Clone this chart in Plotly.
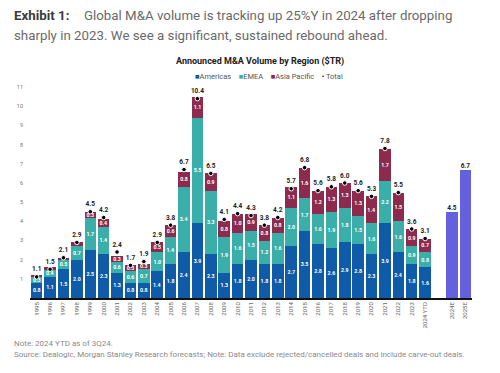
import plotly.graph_objects as go

years = [str(y) for y in range(1995, 2024)] + ["2024 YTD"]
forecast_labels = ["2024E", "2025E"]
gap_label = " "
categories = years + [gap_label] + forecast_labels

americas = [0.8, 1.1, 1.5, 2.0, 2.5, 2.3, 1.3, 0.8, 0.8, 1.4, 1.8, 2.4, 3.9, 2.3, 1.3,
            1.8, 2.0, 1.8, 1.8, 2.7, 3.5, 2.8, 2.6, 2.9, 2.8, 2.3, 3.9, 2.4, 1.8, 1.6]
emea = [0.3, 0.4, 0.5, 0.7, 1.7, 1.4, 0.6, 0.6, 0.7, 1.0, 1.4, 3.4, 5.5, 3.3, 1.9,
        1.6, 1.5, 1.2, 1.6, 2.0, 1.7, 1.6, 1.9, 1.8, 1.5, 1.6, 2.2, 1.6, 0.9, 0.8]
apac = [0.05, 0.1, 0.1, 0.2, 0.3, 0.4, 0.3, 0.3, 0.3, 0.5, 0.6, 0.8, 1.1, 0.9, 0.8,
        1.0, 0.9, 0.8, 0.8, 1.1, 1.6, 1.2, 1.3, 1.3, 1.3, 1.4, 1.7, 1.5, 0.9, 0.7]
totals = [1.1, 1.5, 2.1, 2.9, 4.5, 4.2, 2.4, 1.7, 1.9, 2.9, 3.8, 6.7, 10.4, 6.5, 4.1,
          4.4, 4.3, 3.8, 4.2, 5.7, 6.8, 5.6, 5.8, 6.0, 5.6, 5.3, 7.8, 5.5, 3.6, 3.1]
forecast = [4.5, 6.7]
y_ticks = list(range(1, 12))

C_AM = "#0f5ba7"
C_EM = "#3aafa9"
C_AP = "#8c2b4e"
C_FC = "#6561de"
FONT = "Roboto"

def seg_text(vals):
    return [f"{v:.1f}" if v >= 0.3 else "" for v in vals]

fig = go.Figure()
for name, vals, col in [("Americas", americas, C_AM), ("EMEA", emea, C_EM), ("Asia Pacific", apac, C_AP)]:
    fig.add_trace(go.Bar(
        x=years, y=vals, name=name, marker=dict(color=col, line=dict(width=0)),
        text=seg_text(vals), textposition="inside", insidetextanchor="middle",
        textangle=0, textfont=dict(color="white", size=5.5, family=FONT, weight="bold"),
        showlegend=False, hoverinfo="skip"))

fig.add_trace(go.Bar(
    x=forecast_labels, y=forecast, name="Forecast", marker=dict(color=C_FC, line=dict(width=0)),
    showlegend=False, hoverinfo="skip"))

fig.add_trace(go.Scatter(
    x=years, y=totals, mode="markers+text", name="Total",
    marker=dict(color="black", size=4.5, line=dict(color="white", width=1)),
    text=[f"{v:.1f}" for v in totals], textposition="top center",
    textfont=dict(size=6.5, color="#222", family=FONT, weight="bold"),
    showlegend=False, hoverinfo="skip", cliponaxis=False))

fig.add_trace(go.Scatter(
    x=forecast_labels, y=forecast, mode="text",
    text=[f"{v:.1f}" for v in forecast], textposition="top center",
    textfont=dict(size=6.5, color="#222", family=FONT, weight="bold"),
    showlegend=False, hoverinfo="skip", cliponaxis=False))

# page body has an 8px default margin; layout in screen pixels below
OFF = 8
W, H = 500 - 2 * OFF, 373 - 2 * OFF
PL, PR, PT, PB = 30, 472, 68, 298   # plot area in screen pixels
ML, MR, MT, MB = PL - OFF, W - (PR - OFF), PT - OFF, H - (PB - OFF)
PW = W - ML - MR
PH = H - MT - MB

def px(x):
    return (x - OFF - ML) / PW

def py(y):
    return (H - MB - (y - OFF)) / PH

annotations = [
    dict(text="<b>Exhibit 1:</b>", x=px(12), y=py(15), xanchor="left", yanchor="middle",
         font=dict(size=13.3, color="#3a3a3a", family=FONT)),
    dict(text="Global M&A volume is tracking up 25%Y in 2024 after dropping", x=px(82), y=py(15),
         xanchor="left", yanchor="middle", font=dict(size=13.3, color="#6a6a6a", family=FONT)),
    dict(text="sharply in 2023. We see a significant, sustained rebound ahead.", x=px(12), y=py(36),
         xanchor="left", yanchor="middle", font=dict(size=13.3, color="#6a6a6a", family=FONT)),
    dict(text="<b>Announced M&A Volume by Region ($TR)</b>", x=px(260), y=py(62),
         xanchor="center", yanchor="middle", font=dict(size=9, color="#222", family=FONT)),
    dict(text=(f"<span style='color:{C_AM}'>■</span>Americas    "
               f"<span style='color:{C_EM}'>■</span>EMEA    "
               f"<span style='color:{C_AP}'>■</span>Asia Pacific    "
               f"<span style='color:#000'>•</span> Total"),
         x=px(269), y=py(76), xanchor="center", yanchor="middle",
         font=dict(size=7.5, color="#555", family=FONT)),
    dict(text="Note: 2024 YTD as of 3Q24.", x=px(12), y=py(343), xanchor="left", yanchor="middle",
         font=dict(size=8, color="#8a8a8a", family=FONT)),
    dict(text="Source: Dealogic, Morgan Stanley Research forecasts; Note: Data exclude rejected/cancelled deals and include carve-out deals.",
         x=px(12), y=py(354), xanchor="left", yanchor="middle",
         font=dict(size=8, color="#8a8a8a", family=FONT)),
]
for a in annotations:
    a.update(xref="paper", yref="paper", showarrow=False)

fig.update_layout(
    width=W, height=H, barmode="stack", bargap=0.14,
    margin=dict(l=ML, r=MR, t=MT, b=MB, autoexpand=False),
    paper_bgcolor="white", plot_bgcolor="white",
    font=dict(family=FONT),
    uniformtext=dict(minsize=5, mode="show"),
    annotations=annotations,
    xaxis=dict(type="category", categoryorder="array", categoryarray=categories,
               tickmode="array", tickvals=categories, ticktext=categories,
               tickangle=-90, tickfont=dict(size=6, color="#666", family=FONT),
               showline=True, linecolor="#111", linewidth=1.5, ticks="", showgrid=False,
               range=[-0.5, len(categories) - 0.5], fixedrange=True, automargin=False),
    yaxis=dict(range=[0, 12], tickvals=y_ticks, showgrid=False, zeroline=False,
               showline=False, ticks="", tickfont=dict(size=5.5, color="#777", family=FONT),
               ticklabelstandoff=6, fixedrange=True, automargin=False),
)

fig.write_html("out.html")
